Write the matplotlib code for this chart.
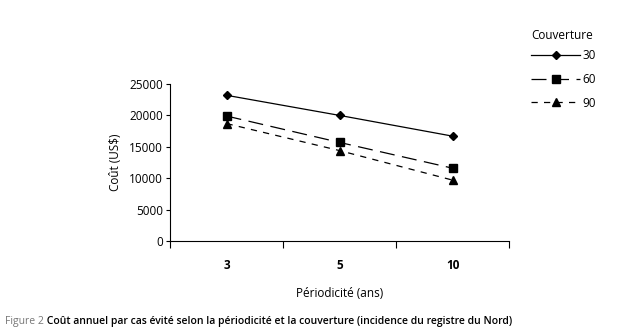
import numpy as np
import matplotlib.pyplot as plt

categories = ["3", "5", "10"]
series_names = ["30", "60", "90"]
cost_30 = [23200, 20000, 16700]
cost_60 = [19900, 15700, 11600]
cost_90 = [18700, 14400, 9700]
y_ticks = [0, 5000, 10000, 15000, 20000, 25000]

plt.rcParams['font.family'] = ['Open Sans', 'DejaVu Sans']

fig = plt.figure(figsize=(6.23, 3.32), dpi=100)
ax = fig.add_axes([0.273, 0.274, 0.544, 0.473])

xs = np.arange(1, len(categories) + 1)
ax.plot(xs, cost_30, '-', color='black', linewidth=0.9, marker='D', markersize=4.5, label=series_names[0])
ax.plot(xs, cost_60, color='black', linewidth=0.9, linestyle=(0, (12, 6)), marker='s', markersize=6, label=series_names[1])
ax.plot(xs, cost_90, color='black', linewidth=0.9, linestyle=(0, (5, 5)), marker='^', markersize=6, label=series_names[2])

ax.set_xlim(0.5, len(categories) + 0.5)
ax.set_ylim(0, 25000)
ax.set_yticks(y_ticks)
ax.set_yticklabels([str(v) for v in y_ticks], fontsize=8.5)
ax.set_xticks(np.arange(0.5, len(categories) + 1, 1))
ax.set_xticklabels([])
ax.set_xticks(xs, minor=True)
ax.set_xticklabels(categories, minor=True, fontsize=8.5, fontweight='bold')
ax.tick_params(axis='x', which='major', direction='out', length=5, width=0.8)
ax.tick_params(axis='x', which='minor', length=0, pad=13)
ax.tick_params(axis='y', direction='out', length=3, width=0.8, pad=2)

for side in ['top', 'right']:
  ax.spines[side].set_visible(False)
ax.spines['left'].set_linewidth(0.8)
ax.spines['bottom'].set_linewidth(0.8)

ax.set_xlabel("Périodicité (ans)", fontsize=8.5, labelpad=11)
ax.set_ylabel("Coût (US$)", fontsize=8.5, labelpad=5)

# legend title as separate text so the entries sit closer to it
fig.text(0.852, 0.893, "Couverture", fontsize=8.5, va='center')
leg = fig.legend(loc='upper left', bbox_to_anchor=(0.835, 0.885), frameon=False, fontsize=8.5,
                 handlelength=4.2, handletextpad=0.2, labelspacing=0.92)

cap = fig.text(0.008, 0.025, "Figure 2", fontsize=7.5, color='#777777')
ax.annotate(" Coût annuel par cas évité selon la périodicité et la couverture (incidence du registre du Nord)",
            xy=(1, 0), xycoords=cap, fontsize=7.5, fontweight='semibold', color='black', va='bottom')

fig.savefig("out.png", dpi=100)
